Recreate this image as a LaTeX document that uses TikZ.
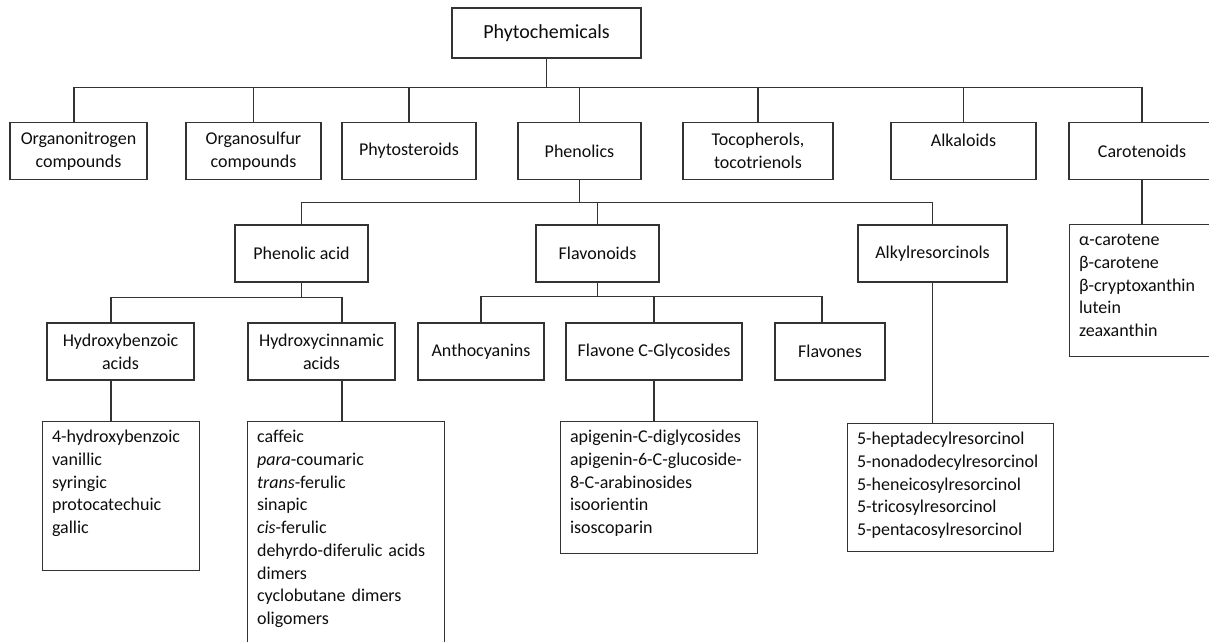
\documentclass[tikz,border=0pt]{standalone}
\usepackage{fontspec}
\setmainfont{Carlito}[Ligatures=NoCommon]
\usepackage{tikz}
\tikzset{basic/.style={draw=black!80,line width=1.1pt,text=black!95,font=\fontsize{18}{22.75}\selectfont}}
\tikzset{group/.style={basic,rectangle,align=center,inner sep=0pt,minimum height=57pt}}
\tikzset{leaf/.style={basic,rectangle,anchor=north west,align=left,inner xsep=9.5pt,inner ysep=6pt,text height=15pt}}
\tikzset{link/.style={draw=black!80,line width=1.1pt}}

\begin{document}
\begin{tikzpicture}[x=1pt,y=-1pt]
                \useasboundingbox (0,0) rectangle (1209,641);
                \clip (0,0) rectangle (1209,641);
                \node[group,minimum width=189pt,minimum height=50pt,font=\fontsize{20}{24}\selectfont] (phyto) at (546.5,33) {Phytochemicals};
                \node[group,minimum width=137pt] (orgn) at (78.5,151) {Organonitrogen\\compounds};
                \node[group,minimum width=135pt] (orgs) at (253.5,151) {Organosulfur\\compounds};
                \node[group,minimum width=134pt] (phst) at (409,151) {Phytosteroids};
                \node[group,minimum width=123pt] (phen) at (579.5,151) {Phenolics};
                \node[group,minimum width=150pt] (toco) at (758,151) {Tocopherols,\\tocotrienols};
                \node[group,minimum width=145pt,text depth=22pt] (alka) at (963.5,151) {Alkaloids};
                \node[group,minimum width=146pt] (caro) at (1142,151) {Carotenoids};
                    \path[link] (phyto.south) -- ++(0,29) -| ([xshift=-4.5pt]orgn.north);
                    \path[link] (phyto.south) -- ++(0,29) -| (orgs.north);
                    \path[link] (phyto.south) -- ++(0,29) -| (phst.north);
                    \path[link] (phyto.south) -- ++(0,29) -| (phen.north);
                    \path[link] (phyto.south) -- ++(0,29) -| (toco.north);
                    \path[link] (phyto.south) -- ++(0,29) -| (alka.north);
                    \path[link] (phyto.south) -- ++(0,29) -| (caro.north);
                \node[group,minimum width=133pt] (phac) at (301.5,253.5) {Phenolic acid};
                \node[group,minimum width=123pt] (flav) at (597.5,253.5) {Flavonoids};
                \node[group,minimum width=149pt] (alky) at (932.5,253.5) {Alkylresorcinols};
                    \path[link] (phen.south) -- ++(0,22) -| (phac.north);
                    \path[link] (phen.south) -- ++(0,22) -| (flav.north);
                    \path[link] (phen.south) -- ++(0,22) -| (alky.north);
                \node[leaf,text width=127pt,text depth=105pt] (carol) at (1069,224) {α-carotene\\β-carotene\\β-cryptoxanthin\\lutein\\zeaxanthin};
                    \path[link] (caro.south) -- (caro.south |- carol.north);
                \node[group,minimum width=147pt] (hben) at (120.5,351.5) {Hydroxybenzoic\\acids};
                \node[group,minimum width=147pt] (hcin) at (321.5,351.5) {Hydroxycinnamic\\acids};
                    \path[link] (phac.south) -- ++(0,15) -| ([xshift=-9.5pt]hben.north);
                    \path[link] (phac.south) -- ++(0,15) -| ([xshift=20.5pt]hcin.north);
                \node[group,minimum width=126pt] (anth) at (481,351.5) {Anthocyanins};
                \node[group,minimum width=176pt] (fcg) at (654,351.5) {Flavone C-Glycosides};
                \node[group,minimum width=110pt] (flvs) at (830,351.5) {Flavones};
                    \path[link] (flav.south) -- ++(0,14) -| (anth.north);
                    \path[link] (flav.south) -- ++(0,14) -| (fcg.north);
                    \path[link] (flav.south) -- ++(0,14) -| ([xshift=-8pt]flvs.north);
                \node[leaf,text width=138pt,text depth=122pt] (hbenl) at (42,421) {4-hydroxybenzoic\\vanillic\\syringic\\protocatechuic\\gallic};
                    \path[link] ([xshift=-9.5pt]hben.south) -- ([xshift=-9.5pt]hben.south |- hbenl.north);
                \node[leaf,text width=178pt,text depth=202pt] (hcinl) at (247,421) {caffeic\\\textit{para}-coumaric\\\textit{trans}-ferulic\\sinapic\\\textit{cis}-ferulic\\dehyrdo-diferulic acids\\dimers\\cyclobutane dimers\\oligomers};
                    \path[link] ([xshift=20.5pt]hcin.south) -- ([xshift=20.5pt]hcin.south |- hcinl.north);
                \node[leaf,text width=178pt,text depth=105pt] (fcgl) at (560,421) {apigenin-C-diglycosides\\apigenin-6-C-glucoside-\\8-C-arabinosides\\isoorientin\\isoscoparin};
                    \path[link] (fcg.south) -- (fcg.south |- fcgl.north);
                \node[leaf,text width=187pt,text depth=101pt] (alkyl) at (847,423) {5-heptadecylresorcinol\\5-nonadodecylresorcinol\\5-heneicosylresorcinol\\5-tricosylresorcinol\\5-pentacosylresorcinol};
                    \path[link] (alky.south) -- (alky.south |- alkyl.north);
            \end{tikzpicture}
\end{document}
